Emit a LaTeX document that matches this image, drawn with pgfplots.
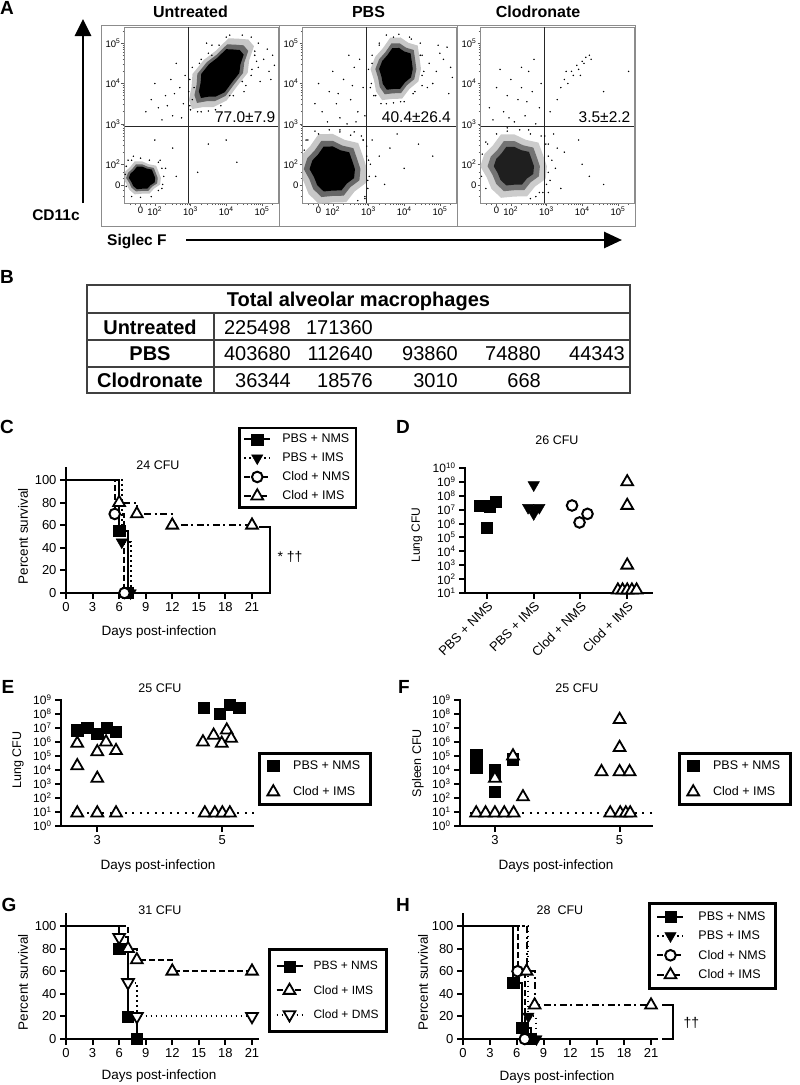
\documentclass[border=0pt]{standalone}
\usepackage{fontspec}
\setmainfont{Liberation Sans}
\usepackage{pgfplots}
\usepackage{pgfplotstable}
\pgfplotsset{compat=1.18}
\usetikzlibrary{arrows.meta}
\newcommand{\fs}[1]{\fontsize{#1}{#1}\selectfont}
\newcommand{\tsup}[1]{\textsuperscript{#1}}

% ---------------- survival data ----------------
\pgfplotstableread{
d s
0 100
6 55
7 0
}\CpbsNMS
\pgfplotstableread{
d s
0 100
6.3 45
7.3 0
}\CpbsIMS
\pgfplotstableread{
d s
0 100
5.5 70
6.6 0
}\CclodNMS
\pgfplotstableread{
d s
0 100
6 80
8 70
12 60
21 60
}\CclodIMS
\pgfplotstableread{
d s
0 100
6 80
7 20
8 0
}\GpbsNMS
\pgfplotstableread{
d s
0 100
7 80
8 70
12 60
21 60
}\GclodIMS
\pgfplotstableread{
d s
0 100
6 90
7 50
8 20
21 20
}\GclodDMS
\pgfplotstableread{
d s
0 100
5.6 50
6.6 10
7.6 0
}\HpbsNMS
\pgfplotstableread{
d s
0 100
7.3 20
8.2 0
}\HpbsIMS
\pgfplotstableread{
d s
0 100
6.1 60
6.9 0
}\HclodNMS
\pgfplotstableread{
d s
0 100
7.1 60
8 30
21 30
}\HclodIMS
% ---------------- CFU data ----------------
\pgfplotstableread{
g c
-0.15 2e7
0.05 1.8e7
0.18 4e7
0.0 5e5
}\DpbsNMS
\pgfplotstableread{
g c
1.0 6e8
0.88 1.4e7
1.12 1.4e7
1.0 1.2e7
1.0 5e6
}\DpbsIMS
\pgfplotstableread{
g c
1.82 2e7
2.15 5e6
1.98 1.2e6
}\DclodNMS
\pgfplotstableread{
g c
3.0 1e9
3.0 2e7
3.0 1e3
2.8 16
2.9 16
3.0 16
3.1 16
3.2 16
}\DclodIMS
\pgfplotstableread{
d c
2.68 7e6
2.84 1e7
3.00 4e6
3.15 1e7
3.30 5.6e6
4.70 3e8
4.96 1.1e8
5.12 4.4e8
5.27 3e8
}\EpbsNMS
\pgfplotstableread{
d c
2.68 8e5
2.68 2e4
2.68 8.5
3.00 2e5
3.00 2.5e3
3.00 8.5
3.14 1e6
3.30 2.4e5
3.30 8.5
4.69 1e6
4.86 3e6
4.99 8e5
5.07 7e6
5.14 1.8e6
4.72 8.5
4.88 8.5
5.00 8.5
5.12 8.5
}\EclodIMS
\pgfplotstableread{
d c
2.70 1.2e5
2.70 3e4
2.70 1.5e4
3.00 1e4
3.00 4e3
3.00 3e2
3.29 6e4
}\FpbsNMS
\pgfplotstableread{
d c
3.00 2.5e3
3.29 1e5
3.45 1.2e2
2.70 8.5
2.85 8.5
3.00 8.5
3.15 8.5
3.30 8.5
5.00 4e7
5.00 4e5
4.71 7.5e3
5.00 7.5e3
5.16 7.5e3
4.85 8.5
5.01 8.5
5.10 8.5
5.17 8.5
}\FclodIMS

\tikzset{gate/.style={black!85, line width=1.1pt}}
\pgfplotsset{
  /pgf/number format/assume math mode=true,
  every axis/.append style={scale only axis, anchor=south west},
  prism/.style={
    axis lines*=left,
    axis line style={line width=2pt, line cap=rect},
    tick style={line width=2pt, black},
    major tick length=6pt,
    tick align=outside,
    tick label style={font=\fs{13}},
    clip=false,
    legend cell align=left,
    legend style={draw=black, line width=2.5pt, font=\fs{12.5}, anchor=north west},
    legend image code/.code={\draw[mark repeat=2,mark phase=2,##1] plot coordinates {(0pt,0pt) (13pt,0pt) (26pt,0pt)};},
  },
  surv/.style={prism, width=192.2pt, height=125.4pt, xmin=0, xmax=21.7, ymin=0, ymax=111,
    xtick={0,3,...,21}, ytick={0,20,...,100}},
  sqm/.style={mark=square*, mark size=5.6pt, mark options={solid, fill=black, line width=0.4pt}},
  dtf/.style={mark=triangle*, mark size=6.6pt, mark options={solid, rotate=180, fill=black, line width=0.4pt}},
  cio/.style={mark=*, mark size=5.3pt, mark options={solid, fill=white, draw=black, line width=2pt}},
  tuo/.style={mark=triangle*, mark size=6.8pt, mark options={solid, fill=white, draw=black, line width=1.8pt}},
  tdo/.style={mark=triangle*, mark size=6.8pt, mark options={solid, rotate=180, fill=white, draw=black, line width=1.8pt}},
  lsol/.style={line width=2pt, solid},
  ldot/.style={line width=2pt, dash pattern=on 1.8pt off 3.2pt},
  ldash/.style={line width=2pt, dash pattern=on 6pt off 3pt},
  ldd/.style={line width=2pt, dash pattern=on 7pt off 3.5pt on 2pt off 3.5pt},
  flow/.style={width=153.5pt, height=176pt, xmin=1.151, xmax=5.451, ymin=1.04, ymax=5.40,
    axis line style={draw=black!45, line width=0.8pt},
    xtick={1.6,2,3,4,5}, ytick={1.49,2,3,4,5},
    xticklabels={0,10\tsup{2},10\tsup{3},10\tsup{4},10\tsup{5}},
    yticklabels={0,10\tsup{2},10\tsup{3},10\tsup{4},10\tsup{5}},
    minor xtick={1.3,1.45,1.75,1.87,2.301,2.477,2.602,2.699,2.778,2.845,2.903,2.954,3.301,3.477,3.602,3.699,3.778,3.845,3.903,3.954,4.301,4.477,4.602,4.699,4.778,4.845,4.903,4.954,5.301},
    minor ytick={1.2,1.35,1.65,1.8,2.301,2.477,2.602,2.699,2.778,2.845,2.903,2.954,3.301,3.477,3.602,3.699,3.778,3.845,3.903,3.954,4.301,4.477,4.602,4.699,4.778,4.845,4.903,4.954,5.301},
    xtick pos=bottom, ytick pos=left, tick align=outside,
    major tick length=3pt, minor tick length=2pt,
    tick style={black!65, line width=0.5pt},
    tick label style={font=\fs{9.5}, inner sep=1pt},
  },
  dots/.style={only marks, mark=*, mark size=0.5pt, black},
}

\begin{document}
\begin{tikzpicture}
\useasboundingbox (0pt,0pt) rectangle (800pt,-1085pt);

% ================= PANEL A =================
\node[font=\bfseries\fs{19}] at (7pt,-8pt) {A};
\node[font=\bfseries\fs{16}] at (190.5pt,-12pt) {Untreated};
\node[font=\bfseries\fs{16}] at (368.5pt,-12pt) {PBS};
\node[font=\bfseries\fs{16}] at (538pt,-12pt) {Clodronate};

% -- Untreated
\begin{axis}[flow, at={(124.5pt,-203pt)}]
\addplot[draw=none, fill=black!22] coordinates {(4.619,5.091) (4.350,5.110) (4.065,5.121) (3.717,4.816) (3.371,4.583) (3.055,4.235) (3.029,3.915) (2.957,3.600) (3.043,3.367) (3.364,3.418) (3.644,3.418) (4.008,3.576) (4.306,3.932) (4.602,4.265) (4.643,4.574) (4.778,4.924)};
\addplot[draw=none, fill=black!60] coordinates {(4.486,4.946) (4.264,4.962) (4.028,4.971) (3.740,4.719) (3.454,4.526) (3.192,4.238) (3.171,3.973) (3.111,3.712) (3.182,3.519) (3.448,3.561) (3.680,3.562) (3.981,3.692) (4.227,3.987) (4.472,4.262) (4.506,4.518) (4.618,4.808)};
\addplot[draw=none, fill=black] coordinates {(4.38,4.83) (4.195,4.843) (3.998,4.851) (3.758,4.641) (3.52,4.48) (3.302,4.240) (3.284,4.019) (3.234,3.802) (3.293,3.641) (3.515,3.676) (3.708,3.677) (3.959,3.785) (4.164,4.031) (4.368,4.260) (4.397,4.473) (4.490,4.715)};
\addplot[draw=none, fill=black!22] coordinates {(2.170,1.660) (2.107,1.809) (2.036,1.964) (1.829,2.001) (1.650,2.070) (1.435,2.069) (1.308,1.930) (1.170,1.817) (1.104,1.660) (1.208,1.516) (1.282,1.370) (1.437,1.255) (1.650,1.271) (1.853,1.274) (1.981,1.399) (2.150,1.497)};
\addplot[draw=none, fill=black!60] coordinates {(2.082,1.660) (2.029,1.782) (1.971,1.909) (1.799,1.940) (1.650,1.996) (1.471,1.995) (1.366,1.881) (1.251,1.789) (1.196,1.660) (1.283,1.542) (1.345,1.422) (1.473,1.328) (1.650,1.341) (1.819,1.343) (1.925,1.446) (2.065,1.526)};
\addplot[draw=none, fill=black] coordinates {(2.010,1.660) (1.966,1.762) (1.917,1.868) (1.774,1.893) (1.650,1.940) (1.501,1.939) (1.413,1.844) (1.317,1.767) (1.272,1.660) (1.344,1.561) (1.395,1.462) (1.502,1.383) (1.650,1.394) (1.791,1.396) (1.879,1.482) (1.996,1.549)};
\addplot[dots] coordinates {(2.1,3.4) (2.3,3.7) (2.5,3.2) (2.7,3.9) (2.45,4.1) (2.8,3.5) (2.2,3.1) (1.9,3.6) (2.6,4.5) (2.85,4.2) (2.35,3.45) (2.0,4.0) (2.75,3.15) (2.55,3.75) (1.75,3.3)
(3.05,4.4) (3.1,3.9) (3.3,4.6) (3.6,4.95) (4.0,5.15) (4.7,4.2) (4.5,3.8) (4.1,3.7) (3.7,3.35) (3.3,3.3) (3.05,3.6) (4.85,4.55) (3.45,5.0)
(4.9,4.4) (5.05,4.6) (5.2,4.3) (5.3,4.7) (4.95,4.05) (5.15,4.85) (5.35,4.45) (4.8,4.8) (5.25,4.1)
(3.5,2.5) (4.3,2.05) (3.2,1.8) (4.0,2.6)
(2.3,1.9) (2.2,1.4) (1.4,2.2) (2.5,2.4) (2.0,2.6) (2.6,1.7) (2.15,2.1) (1.25,2.1)
(4.70,5.15) (4.45,5.2) (4.1,5.2) (3.8,4.95) (3.5,4.75) (3.25,4.5) (2.98,4.1) (2.95,3.8) (2.98,3.45) (3.2,3.3) (3.5,3.32) (3.85,3.45) (4.2,3.7) (4.45,4.05) (4.72,4.35) (4.8,4.7) (4.9,5.0) (3.6,4.7) (3.0,3.35) (4.55,3.95)
(2.25,1.7) (2.2,1.9) (2.1,2.05) (1.85,2.1) (1.6,2.15) (1.35,2.1) (1.2,1.95) (1.17,1.75) (1.2,1.45) (1.35,1.2) (1.6,1.18) (1.9,1.2) (2.1,1.35) (2.22,1.5)};
\draw[gate] (axis cs:2.944,1.04) -- (axis cs:2.944,5.40);
\draw[gate] (axis cs:1.151,2.93) -- (axis cs:5.451,2.93);
\end{axis}

% -- PBS
\begin{axis}[flow, at={(302.5pt,-203pt)}]
\addplot[draw=none, fill=black!22] coordinates {(4.470,4.360) (4.428,4.644) (4.379,4.939) (4.116,5.010) (3.897,5.140) (3.612,5.139) (3.402,4.873) (3.187,4.659) (3.056,4.360) (3.153,4.086) (3.210,3.808) (3.381,3.589) (3.669,3.619) (3.941,3.625) (4.145,3.864) (4.397,4.050)};
\addplot[draw=none, fill=black!60] coordinates {(4.341,4.360) (4.307,4.591) (4.267,4.830) (4.054,4.887) (3.875,4.994) (3.643,4.993) (3.473,4.777) (3.298,4.602) (3.191,4.360) (3.270,4.137) (3.316,3.911) (3.456,3.733) (3.690,3.758) (3.910,3.762) (4.076,3.957) (4.282,4.108)};
\addplot[draw=none, fill=black] coordinates {(4.240,4.360) (4.212,4.549) (4.179,4.746) (4.004,4.793) (3.858,4.880) (3.668,4.879) (3.528,4.702) (3.385,4.559) (3.297,4.360) (3.362,4.177) (3.400,3.992) (3.514,3.846) (3.706,3.866) (3.887,3.870) (4.023,4.029) (4.191,4.153)};
\addplot[draw=none, fill=black!22] coordinates {(2.960,1.880) (2.843,2.197) (2.712,2.526) (2.331,2.604) (2.000,2.750) (1.603,2.748) (1.368,2.452) (1.113,2.213) (0.992,1.880) (1.184,1.574) (1.321,1.265) (1.606,1.020) (2.000,1.054) (2.375,1.060) (2.611,1.327) (2.923,1.534)};
\addplot[draw=none, fill=black!60] coordinates {(2.775,1.880) (2.680,2.135) (2.575,2.399) (2.267,2.462) (2.000,2.580) (1.679,2.579) (1.490,2.341) (1.284,2.148) (1.186,1.880) (1.341,1.634) (1.452,1.385) (1.682,1.188) (2.000,1.215) (2.303,1.221) (2.493,1.435) (2.745,1.601)};
\addplot[draw=none, fill=black] coordinates {(2.620,1.880) (2.544,2.084) (2.460,2.296) (2.214,2.346) (2.000,2.440) (1.743,2.439) (1.592,2.248) (1.427,2.094) (1.349,1.880) (1.473,1.683) (1.562,1.484) (1.746,1.326) (2.000,1.348) (2.242,1.352) (2.394,1.524) (2.596,1.657)};
\addplot[dots] coordinates {(1.7,3.3) (1.9,3.8) (2.1,3.5) (2.3,4.1) (2.5,3.6) (2.7,3.3) (2.85,3.9) (2.2,3.15) (2.0,4.3) (2.6,4.4) (2.4,3.0) (1.5,3.5) (2.75,4.6) (1.85,3.05) (2.55,3.95) (2.15,3.75) (2.9,3.2) (1.6,4.0) (2.45,4.7) (2.65,3.05)
(3.1,4.5) (3.2,3.7) (3.5,3.5) (3.9,3.55) (4.3,3.8) (4.5,4.2) (4.45,4.7) (4.2,5.1) (3.7,5.15) (3.3,5.0) (3.05,3.9)
(4.7,4.5) (4.9,4.3) (5.1,4.6) (5.3,4.4) (4.8,4.0) (5.2,4.9) (5.0,4.75) (5.35,4.15) (4.65,3.9) (4.95,4.95) (5.25,3.75)
(3.1,2.6) (3.3,2.2) (3.2,1.7) (3.6,2.4) (4.0,1.9) (4.4,2.5) (3.05,2.0) (3.45,1.5) (4.8,2.2) (3.8,2.75)
(2.85,2.6) (2.95,2.2) (2.6,2.8) (2.2,2.85) (1.6,2.75) (1.3,2.6) (2.98,1.6) (2.9,1.2)
(4.55,4.3) (4.5,4.7) (4.45,5.0) (4.15,5.15) (3.85,5.22) (3.5,5.2) (3.3,4.95) (3.1,4.7) (3.0,4.35) (3.08,4.0) (3.15,3.7) (3.35,3.5) (3.7,3.52) (4.0,3.55) (4.25,3.75) (4.5,3.95)
(3.0,2.1) (2.95,2.45) (2.8,2.7) (2.5,2.72) (2.2,2.8) (1.9,2.85) (1.5,2.82) (1.25,2.6) (1.2,2.35) (3.02,1.7) (2.98,1.4) (2.9,1.15) (2.7,1.1) (2.85,2.6)};
\draw[gate] (axis cs:2.944,1.04) -- (axis cs:2.944,5.40);
\draw[gate] (axis cs:1.151,2.93) -- (axis cs:5.451,2.93);
\end{axis}

% -- Clodronate
\begin{axis}[flow, at={(480.5pt,-203pt)}]
\addplot[draw=none, fill=black!20] coordinates {(3.010,1.950) (2.899,2.238) (2.775,2.536) (2.414,2.607) (2.100,2.740) (1.723,2.738) (1.501,2.470) (1.259,2.253) (1.145,1.950) (1.327,1.672) (1.457,1.391) (1.727,1.169) (2.100,1.200) (2.456,1.206) (2.679,1.448) (2.975,1.636)};
\addplot[draw=none, fill=black!55] coordinates {(2.815,1.950) (2.728,2.177) (2.631,2.413) (2.347,2.469) (2.100,2.574) (1.804,2.573) (1.630,2.361) (1.439,2.189) (1.349,1.950) (1.492,1.730) (1.594,1.509) (1.807,1.333) (2.100,1.357) (2.380,1.362) (2.555,1.553) (2.787,1.702)};
\addplot[draw=none, fill=black!88] coordinates {(2.650,1.950) (2.583,2.125) (2.508,2.306) (2.290,2.349) (2.100,2.430) (1.872,2.429) (1.738,2.266) (1.592,2.134) (1.523,1.950) (1.633,1.781) (1.711,1.611) (1.875,1.475) (2.100,1.494) (2.315,1.498) (2.450,1.645) (2.629,1.759)};
\addplot[dots] coordinates {(1.4,3.4) (1.6,3.9) (1.8,3.3) (2.0,4.1) (2.2,3.6) (2.4,3.2) (2.6,3.8) (2.8,3.4) (2.5,4.3) (1.9,3.7) (2.7,3.0) (2.3,4.4) (1.5,3.1) (2.1,3.05) (2.85,4.0) (1.7,4.35) (2.45,3.55) (2.65,4.6) (1.95,3.15) (2.3,3.9)
(3.4,3.9) (3.5,4.1) (3.6,4.0) (3.7,4.3) (3.75,4.2) (3.85,4.45) (3.9,4.35) (4.0,4.55) (4.05,4.5) (4.1,4.65) (4.2,4.7) (3.55,4.3) (3.95,4.2) (3.3,3.6) (4.6,3.8) (5.3,4.3) (3.1,3.3) (4.25,4.6)
(3.05,2.5) (3.15,2.1) (3.1,1.6) (3.3,2.4) (3.25,1.9) (3.5,2.3) (3.4,1.4) (4.0,2.0) (4.2,1.7) (3.9,2.6) (3.2,2.75) (4.6,1.5) (3.05,1.3)
(2.95,2.7) (2.5,2.85) (1.9,2.9) (1.3,2.55) (2.9,1.3) (2.7,1.2)
(3.05,2.2) (2.98,2.5) (2.85,2.7) (2.55,2.75) (2.25,2.85) (1.9,2.82) (1.6,2.75) (1.35,2.5) (1.2,2.25) (1.18,1.7) (1.3,1.4) (3.05,1.8) (3.0,1.5) (2.8,1.3) (2.55,1.15)};
\draw[gate] (axis cs:2.944,1.04) -- (axis cs:2.944,5.40);
\draw[gate] (axis cs:1.151,2.93) -- (axis cs:5.451,2.93);
\end{axis}

\draw[black!45, line width=0.8pt] (101.5pt,-25.5pt) rectangle (279.5pt,-226pt);
\draw[black!45, line width=0.8pt] (279.5pt,-25.5pt) rectangle (457.5pt,-226pt);
\draw[black!45, line width=0.8pt] (457.5pt,-25.5pt) rectangle (635.5pt,-226pt);
\node[font=\fs{15.5}, anchor=base east, inner sep=0pt] at (275.5pt,-122pt) {77.0±7.9};
\node[font=\fs{15.5}, anchor=base east, inner sep=0pt] at (451pt,-122pt) {40.4±26.4};
\node[font=\fs{15.5}, anchor=base east, inner sep=0pt] at (630.5pt,-122pt) {3.5±2.2};

\draw[line width=2.8pt, -{Triangle[length=17pt,width=16pt]}] (83pt,-203pt) -- (83pt,-19pt);
\node[font=\bfseries\fs{15.5}] at (56pt,-215pt) {CD11c};
\draw[line width=2.8pt, -{Triangle[length=18pt,width=16pt]}] (186pt,-240pt) -- (622pt,-240pt);
\node[font=\bfseries\fs{15.5}, anchor=base west, inner sep=0pt] at (107pt,-245pt) {Siglec F};

% ================= PANEL B =================
\node[font=\bfseries\fs{19}] at (7pt,-277pt) {B};
\draw[black!75, line width=1.3pt] (87pt,-285pt) rectangle (630pt,-393pt);
\draw[black!75, line width=1.3pt] (87pt,-313pt) -- (630pt,-313pt) (87pt,-340pt) -- (630pt,-340pt) (87pt,-367pt) -- (630pt,-367pt) (214pt,-313pt) -- (214pt,-393pt);
\node[font=\bfseries\fs{20}, anchor=base, inner sep=0pt] at (358.5pt,-306pt) {Total alveolar macrophages};
\node[font=\bfseries\fs{20}, anchor=base, inner sep=0pt] at (150pt,-334pt) {Untreated};
\node[font=\bfseries\fs{20}, anchor=base, inner sep=0pt] at (150pt,-360.5pt) {PBS};
\node[font=\bfseries\fs{20}, anchor=base, inner sep=0pt] at (150pt,-387pt) {Clodronate};
\begin{scope}[every node/.style={font=\fs{20}, anchor=base east, inner sep=0pt}]
\node at (291pt,-334pt) {225498}; \node at (373pt,-334pt) {171360};
\node at (291pt,-360.5pt) {403680}; \node at (373pt,-360.5pt) {112640}; \node at (458pt,-360.5pt) {93860}; \node at (541pt,-360.5pt) {74880}; \node at (625pt,-360.5pt) {44343};
\node at (291pt,-387pt) {36344}; \node at (373pt,-387pt) {18576}; \node at (458pt,-387pt) {3010}; \node at (541pt,-387pt) {668};
\end{scope}

% ================= PANEL C =================
\node[font=\bfseries\fs{19}] at (7pt,-427pt) {C};
\begin{axis}[surv, at={(66pt,-593pt)},
  legend style={at={(rel axis cs:0.895,1.324)}, inner xsep=4pt, inner ysep=4pt, row sep=4.5pt, /tikz/every odd column/.append style={column sep=9pt}}]
\addplot[lsol, const plot, forget plot] table {\CpbsNMS};
\addplot[ldot, const plot, forget plot] table {\CpbsIMS};
\addplot[ldash, const plot, forget plot] table {\CclodNMS};
\addplot[ldd, const plot, forget plot] table {\CclodIMS};
\addplot[only marks, sqm, skip coords between index={0}{1}, forget plot] table {\CpbsNMS};
\addplot[only marks, dtf, skip coords between index={0}{1}, forget plot] table {\CpbsIMS};
\addplot[only marks, cio, skip coords between index={0}{1}, forget plot] table {\CclodNMS};
\addplot[only marks, tuo, skip coords between index={0}{1}, forget plot] table {\CclodIMS};
\addlegendimage{lsol, sqm}\addlegendentry{PBS + NMS}
\addlegendimage{ldot, dtf}\addlegendentry{PBS + IMS}
\addlegendimage{ldash, cio}\addlegendentry{Clod + NMS}
\addlegendimage{ldd, tuo}\addlegendentry{Clod + IMS}
\end{axis}
\node[font=\fs{12.5}] at (158pt,-465pt) {24 CFU};
\node[font=\fs{13.5}, rotate=90] at (23pt,-536pt) {Percent survival};
\node[font=\fs{13.5}] at (159pt,-632pt) {Days post-infection};
\draw[line width=2pt] (259pt,-527pt) -- (270pt,-527pt) -- (270pt,-593pt) -- (259pt,-593pt);
\node[font=\fs{14}, anchor=west] at (274pt,-557pt) {* ††};

% ================= PANEL D =================
\node[font=\bfseries\fs{19}] at (403pt,-427pt) {D};
\begin{axis}[prism, ymode=log, yminorticks=false, at={(465pt,-593pt)}, width=187pt, height=125pt,
  xmin=-0.47, xmax=3.53, ymin=10, ymax=1e10,
  xtick={0,1,2,3}, xticklabels={PBS + NMS,PBS + IMS,Clod + NMS,Clod + IMS},
  xticklabel style={rotate=45, anchor=north east, font=\fs{13}, inner sep=1pt},
  yticklabel style={font=\fs{12}},
  ytick={1e1,1e2,1e3,1e4,1e5,1e6,1e7,1e8,1e9,1e10},
  yticklabels={10\tsup{1},10\tsup{2},10\tsup{3},10\tsup{4},10\tsup{5},10\tsup{6},10\tsup{7},10\tsup{8},10\tsup{9},10\tsup{10}}]
\addplot[only marks, sqm] table {\DpbsNMS};
\addplot[only marks, dtf] table {\DpbsIMS};
\addplot[only marks, cio] table {\DclodNMS};
\addplot[only marks, tuo] table {\DclodIMS};
\end{axis}
\node[font=\fs{12.5}] at (557pt,-440pt) {26 CFU};
\node[font=\fs{12}, rotate=90] at (417pt,-535pt) {Lung CFU};

% ================= PANEL E =================
\node[font=\bfseries\fs{19}] at (8pt,-687pt) {E};
\begin{axis}[prism, ymode=log, yminorticks=false, at={(61pt,-826pt)}, width=192pt, height=126pt,
  xmin=2.42, xmax=5.49, ymin=1, ymax=1e9, xtick={3,5},
  ytick={1,1e1,1e2,1e3,1e4,1e5,1e6,1e7,1e8,1e9},
  yticklabels={10\tsup{0},10\tsup{1},10\tsup{2},10\tsup{3},10\tsup{4},10\tsup{5},10\tsup{6},10\tsup{7},10\tsup{8},10\tsup{9}},
  yticklabel style={font=\fs{12}},
  legend style={at={(rel axis cs:1.026,0.587)}, line width=2.8pt, row sep=12pt, inner ysep=5pt, inner xsep=8pt, /tikz/every odd column/.append style={column sep=12pt}}]
\addplot[line width=2pt, dash pattern=on 2pt off 5.5pt, forget plot] coordinates {(2.6,8) (5.52,8)};
\addplot[only marks, sqm] table {\EpbsNMS};
\addplot[only marks, tuo] table {\EclodIMS};
\legend{PBS + NMS, Clod + IMS}
\end{axis}
\node[font=\fs{12.5}] at (160pt,-688pt) {25 CFU};
\node[font=\fs{12.5}, rotate=90] at (18pt,-760pt) {Lung CFU};
\node[font=\fs{13.5}] at (158pt,-866pt) {Days post-infection};

% ================= PANEL F =================
\node[font=\bfseries\fs{19}] at (404pt,-687pt) {F};
\begin{axis}[prism, ymode=log, yminorticks=false, at={(460pt,-826pt)}, width=192pt, height=126pt,
  xmin=2.44, xmax=5.52, ymin=1, ymax=1e9, xtick={3,5},
  ytick={1,1e1,1e2,1e3,1e4,1e5,1e6,1e7,1e8,1e9},
  yticklabels={10\tsup{0},10\tsup{1},10\tsup{2},10\tsup{3},10\tsup{4},10\tsup{5},10\tsup{6},10\tsup{7},10\tsup{8},10\tsup{9}},
  yticklabel style={font=\fs{12}},
  legend style={at={(rel axis cs:1.135,0.587)}, line width=2.8pt, row sep=12pt, inner ysep=5pt, inner xsep=8pt, /tikz/every odd column/.append style={column sep=12pt}}]
\addplot[line width=2pt, dash pattern=on 2pt off 5.5pt, forget plot] coordinates {(2.6,8) (5.55,8)};
\addplot[only marks, sqm] table {\FpbsNMS};
\addplot[only marks, tuo] table {\FclodIMS};
\legend{PBS + NMS, Clod + IMS}
\end{axis}
\node[font=\fs{12.5}] at (577pt,-688pt) {25 CFU};
\node[font=\fs{12.5}, rotate=90] at (418pt,-763pt) {Spleen CFU};
\node[font=\fs{13.5}] at (556pt,-866pt) {Days post-infection};

% ================= PANEL G =================
\node[font=\bfseries\fs{19}] at (9pt,-905pt) {G};
\begin{axis}[surv, at={(66pt,-1039pt)},
  legend style={at={(rel axis cs:1.051,0.726)}, line width=3pt, row sep=10pt, inner ysep=10pt, inner xsep=6pt, font=\fs{12}, /tikz/every odd column/.append style={column sep=8pt}}]
\addplot[lsol, const plot, forget plot] table {\GpbsNMS};
\addplot[ldash, const plot, forget plot] table {\GclodIMS};
\addplot[ldot, const plot, forget plot] table {\GclodDMS};
\addplot[only marks, sqm, skip coords between index={0}{1}, forget plot] table {\GpbsNMS};
\addplot[only marks, tuo, skip coords between index={0}{1}, forget plot] table {\GclodIMS};
\addplot[only marks, tdo, skip coords between index={0}{1}, forget plot] table {\GclodDMS};
\addlegendimage{lsol, sqm}\addlegendentry{PBS + NMS}
\addlegendimage{ldash, tuo}\addlegendentry{Clod + IMS}
\addlegendimage{ldot, tdo}\addlegendentry{Clod + DMS}
\end{axis}
\node[font=\fs{12.5}] at (160pt,-910pt) {31 CFU};
\node[font=\fs{13.5}, rotate=90] at (23pt,-982pt) {Percent survival};
\node[font=\fs{13.5}] at (159pt,-1076pt) {Days post-infection};

% ================= PANEL H =================
\node[font=\bfseries\fs{19}] at (403pt,-905pt) {H};
\begin{axis}[surv, at={(463pt,-1039pt)}, width=194.3pt,
  legend style={at={(rel axis cs:0.952,1.092)}, line width=3pt, row sep=5pt, inner ysep=6pt, inner xsep=7pt, /tikz/every odd column/.append style={column sep=12pt}}]
\addplot[lsol, const plot, forget plot] table {\HpbsNMS};
\addplot[ldot, const plot, forget plot] table {\HpbsIMS};
\addplot[ldash, const plot, forget plot] table {\HclodNMS};
\addplot[ldd, const plot, forget plot] table {\HclodIMS};
\addplot[only marks, sqm, skip coords between index={0}{1}, forget plot] table {\HpbsNMS};
\addplot[only marks, dtf, skip coords between index={0}{1}, forget plot] table {\HpbsIMS};
\addplot[only marks, cio, skip coords between index={0}{1}, forget plot] table {\HclodNMS};
\addplot[only marks, tuo, skip coords between index={0}{1}, forget plot] table {\HclodIMS};
\addlegendimage{lsol, sqm}\addlegendentry{PBS + NMS}
\addlegendimage{ldot, dtf}\addlegendentry{PBS + IMS}
\addlegendimage{ldash, cio}\addlegendentry{Clod + NMS}
\addlegendimage{ldd, tuo}\addlegendentry{Clod + IMS}
\end{axis}
\node[font=\fs{12.5}] at (560pt,-910pt) {28\ \ CFU};
\node[font=\fs{13.5}, rotate=90] at (423pt,-982pt) {Percent survival};
\node[font=\fs{13.5}] at (557pt,-1077pt) {Days post-infection};
\draw[line width=2.5pt] (662pt,-1005pt) -- (673pt,-1005pt) -- (673pt,-1039pt) -- (662pt,-1039pt);
\node[font=\fs{14}, anchor=west] at (680pt,-1023pt) {††};

\end{tikzpicture}
\end{document}
